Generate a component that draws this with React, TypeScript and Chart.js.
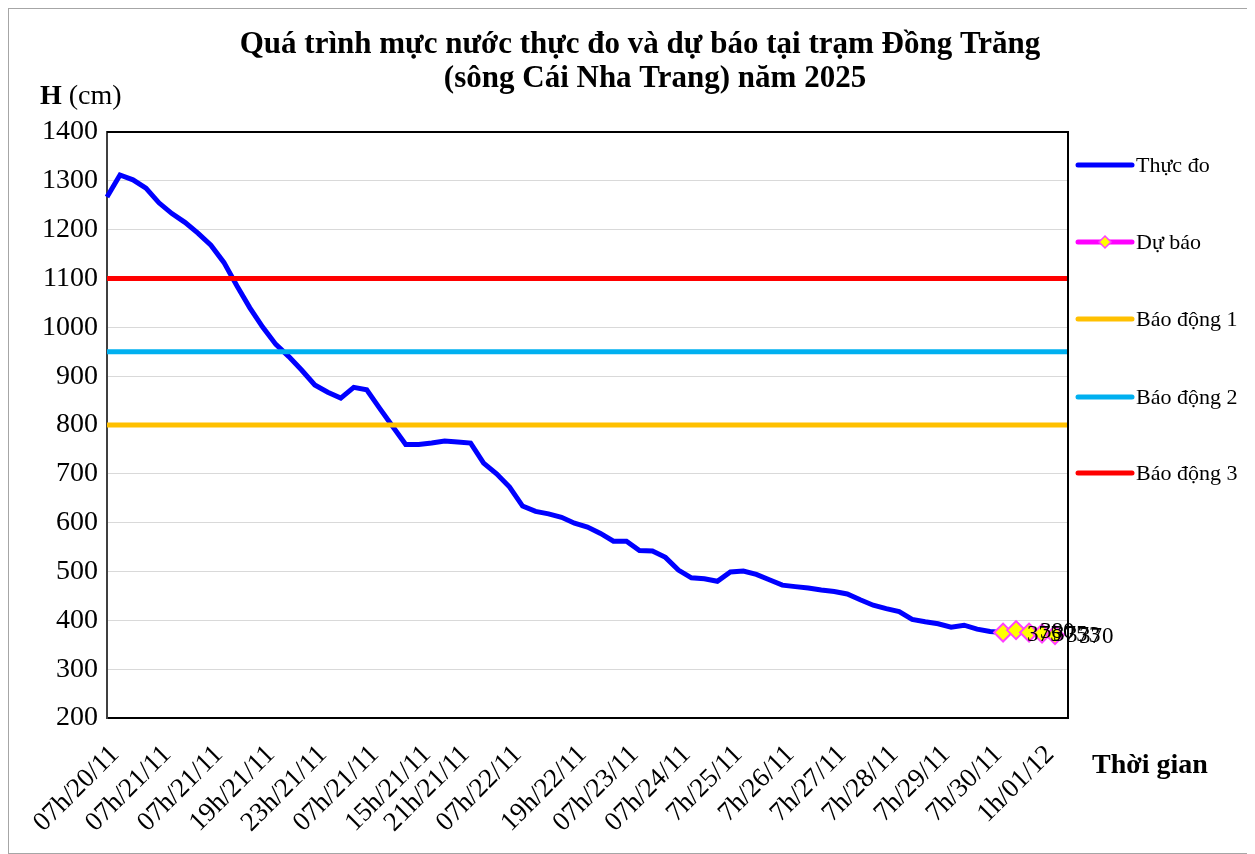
import React, { useEffect, useRef } from "react";
import { Chart, registerables } from "chart.js";
Chart.register(...registerables);

const FONT = "'Times New Roman', 'Liberation Serif', serif";
const W = 1247;
const H = 846;

const titleLines = [
  "Quá trình mực nước thực đo và dự báo tại trạm Đồng Trăng",
  "(sông Cái Nha Trang) năm 2025",
];

const tickLabels = [
  "07h/20/11", "07h/21/11", "07h/21/11", "19h/21/11", "23h/21/11", "07h/21/11",
  "15h/21/11", "21h/21/11", "07h/22/11", "19h/22/11", "07h/23/11", "07h/24/11",
  "7h/25/11", "7h/26/11", "7h/27/11", "7h/28/11", "7h/29/11", "7h/30/11", "1h/01/12",
];
const tickIndex = [0, 4, 8, 12, 16, 20, 24, 27, 31, 36, 40, 44, 48, 52, 56, 60, 64, 68, 72];
const categoryCount = 75;

const observed = [
  1267, 1312, 1302, 1285, 1255, 1233, 1215, 1193, 1168, 1133,
  1085, 1040, 1000, 965, 940, 912, 882, 867, 855, 877,
  872, 834, 797, 760, 760, 763, 767, 765, 763, 722,
  700, 673, 634, 623, 618, 611, 599, 591, 578, 562,
  562, 543, 542, 529, 503, 487, 485, 480, 499, 501,
  494, 483, 472, 469, 466, 462, 459, 454, 442, 431,
  424, 418, 402, 397, 393, 386, 390, 382, 377, 375,
];
const forecast = [375, 380, 375, 373, 370];
const forecastStart = 69;

const alarm1 = 800;
const alarm2 = 950;
const alarm3 = 1100;

const categories = Array.from({ length: categoryCount }, (_, i) => {
  const k = tickIndex.indexOf(i);
  return k >= 0 ? tickLabels[k] : "";
});
const forecastData: (number | null)[] = Array(categoryCount).fill(null);
forecast.forEach((v, k) => (forecastData[forecastStart + k] = v));
const level = (v: number) => Array(categoryCount).fill(v);

const legendOrder = [0, 1, 2, 3, 4];

const decor = {
  id: "decor",
  afterDatasetsDraw(chart: any) {
    const ctx = chart.ctx;
    const meta = chart.getDatasetMeta(1);
    const data = chart.data.datasets[1].data;
    ctx.save();
    ctx.font = `23px ${FONT}`;
    ctx.fillStyle = "#000";
    ctx.textAlign = "left";
    ctx.textBaseline = "middle";
    meta.data.forEach((pt: any, i: number) => {
      const v = data[i];
      if (v == null) return;
      ctx.fillText(String(v), pt.x + 24, pt.y + 2);
    });
    ctx.restore();
  },
  afterDraw(chart: any) {
    const ctx = chart.ctx;
    const a = chart.chartArea;
    ctx.save();
    // plot frame top & right
    ctx.strokeStyle = "#000";
    ctx.lineWidth = 2;
    ctx.beginPath();
    ctx.moveTo(a.left, a.top);
    ctx.lineTo(a.right, a.top);
    ctx.lineTo(a.right, a.bottom);
    ctx.stroke();
    // outer border
    ctx.strokeStyle = "#a6a6a6";
    ctx.lineWidth = 1;
    ctx.strokeRect(0.5, 0.5, W - 1, H - 1);
    // title
    ctx.fillStyle = "#000";
    ctx.textAlign = "center";
    ctx.textBaseline = "middle";
    ctx.font = `bold 31px ${FONT}`;
    ctx.fillText(titleLines[0], 632, 37);
    ctx.fillText(titleLines[1], 647, 71);
    // y title
    ctx.textAlign = "left";
    ctx.font = `bold 28px ${FONT}`;
    ctx.fillText("H", 32, 89);
    const hw = ctx.measureText("H ").width;
    ctx.font = `28px ${FONT}`;
    ctx.fillText("(cm)", 32 + hw, 89);
    // x title
    ctx.font = `bold 28px ${FONT}`;
    ctx.fillText("Thời gian", 1084, 758);
    // legend
    const ys = [157, 234, 311, 389, 465];
    legendOrder.forEach((di, k) => {
      const ds = chart.data.datasets[di];
      const y = ys[k];
      ctx.strokeStyle = ds.borderColor;
      ctx.lineWidth = 5;
      ctx.lineCap = "round";
      ctx.beginPath();
      ctx.moveTo(1070, y);
      ctx.lineTo(1124, y);
      ctx.stroke();
      if (ds.pointRadius) {
        const cx = 1097;
        const r = 6;
        ctx.beginPath();
        ctx.moveTo(cx, y - r);
        ctx.lineTo(cx + r, y);
        ctx.lineTo(cx, y + r);
        ctx.lineTo(cx - r, y);
        ctx.closePath();
        ctx.fillStyle = ds.pointBackgroundColor;
        ctx.fill();
        ctx.lineWidth = 1.5;
        ctx.strokeStyle = ds.pointBorderColor;
        ctx.stroke();
      }
      ctx.fillStyle = "#000";
      ctx.font = `22px ${FONT}`;
      ctx.textAlign = "left";
      ctx.textBaseline = "middle";
      ctx.fillText(ds.label, 1128, y + 1);
    });
    ctx.restore();
  },
};

export default function App() {
  const ref = useRef<HTMLCanvasElement>(null);
  useEffect(() => {
    document.body.style.overflow = "hidden";
    const canvas = ref.current!;
    const chart = new Chart(canvas, {
      type: "line",
      data: {
        labels: categories,
        datasets: [
          {
            label: "Thực đo",
            data: observed,
            borderColor: "#0000ff",
            borderWidth: 5,
            pointRadius: 0,
            tension: 0,
            order: 4,
          },
          {
            label: "Dự báo",
            data: forecastData,
            borderColor: "#ff00ff",
            borderWidth: 3,
            pointStyle: "rectRot",
            pointRadius: 9,
            pointBackgroundColor: "#ffff00",
            pointBorderColor: "#ff40ff",
            pointBorderWidth: 2,
            tension: 0,
            order: 0,
          },
          {
            label: "Báo động 1",
            data: level(alarm1),
            borderColor: "#ffc000",
            borderWidth: 5,
            pointRadius: 0,
            order: 1,
          },
          {
            label: "Báo động 2",
            data: level(alarm2),
            borderColor: "#00b0f0",
            borderWidth: 5,
            pointRadius: 0,
            order: 2,
          },
          {
            label: "Báo động 3",
            data: level(alarm3),
            borderColor: "#ff0000",
            borderWidth: 5,
            pointRadius: 0,
            order: 3,
          },
        ] as any,
      },
      options: {
        responsive: false,
        animation: false,
        events: [],
        layout: { padding: { left: 0, right: W - 1060, top: 124, bottom: 0 } },
        plugins: {
          legend: { display: false },
          title: { display: false },
          tooltip: { enabled: false },
        },
        scales: {
          x: {
            type: "category",
            offset: false,
            grid: { display: false, drawTicks: false },
            border: { display: true, color: "#000", width: 2 },
            ticks: {
              autoSkip: false,
              maxRotation: 45,
              minRotation: 45,
              padding: 21,
              labelOffset: 8,
              color: "#000",
              font: { family: FONT, size: 27 },
            },
            afterFit(s: any) {
              s.height = H - 710;
            },
          },
          y: {
            min: 200,
            max: 1400,
            ticks: {
              stepSize: 100,
              color: "#000",
              padding: 9,
              font: { family: FONT, size: 28 },
              callback: (v: any) => String(v),
            },
            grid: { color: "#d9d9d9", lineWidth: 1, drawTicks: false },
            border: { display: true, color: "#404040", width: 2 },
            afterFit(s: any) {
              s.width = 99;
            },
          },
        },
      } as any,
      plugins: [decor],
    });
    return () => chart.destroy();
  }, []);
  return (
    <div style={{ width: W, height: H }}>
      <canvas ref={ref} width={W} height={H} style={{ display: "block", width: W, height: H }} />
    </div>
  );
}
